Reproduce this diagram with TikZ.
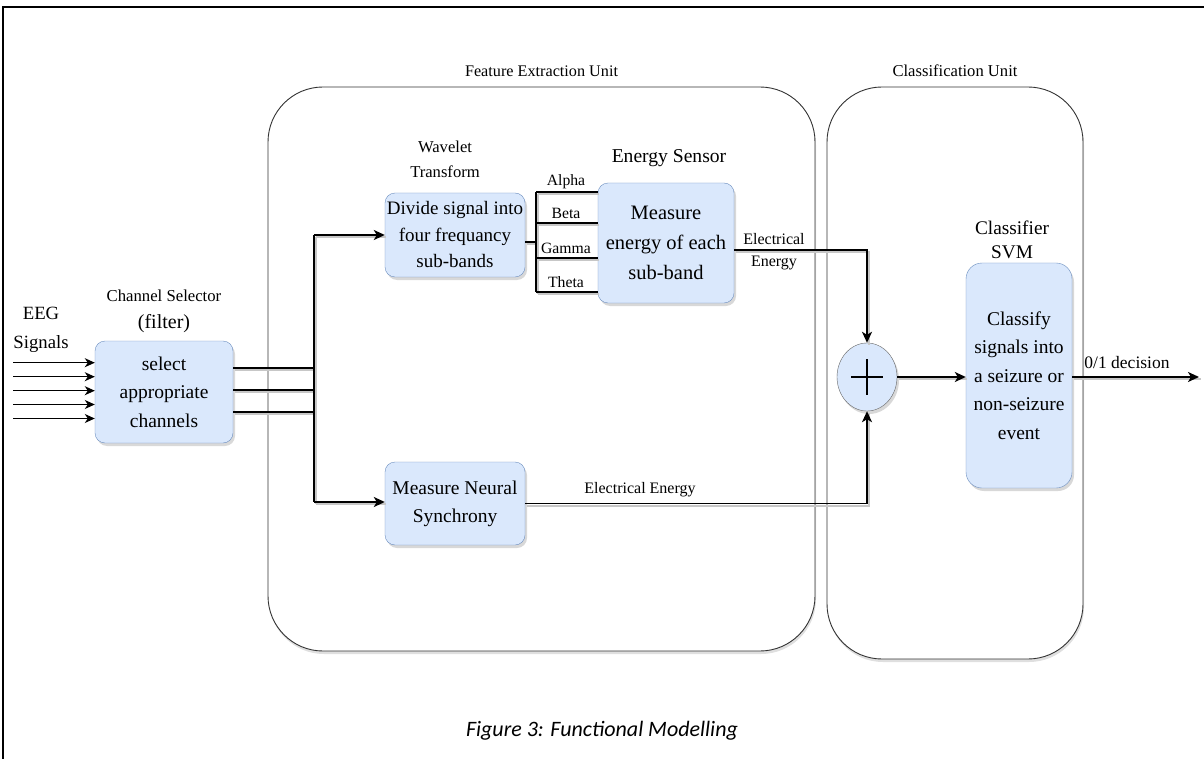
\documentclass[tikz,border=0pt]{standalone}
\usepackage{fontspec}
\setmainfont{Liberation Serif}
\newfontfamily\capfont{Carlito}
\usetikzlibrary{shapes,arrows.meta,positioning,shadows}
\definecolor{boxfill}{RGB}{218,232,252}
\definecolor{boxline}{RGB}{108,142,191}
\newcommand{\setfs}[2]{\fontsize{#1pt}{#2pt}\selectfont}

\begin{document}
\begin{tikzpicture}[x=1pt,y=-1pt,
  block/.style={draw=boxline,fill=boxfill,rounded corners=10pt,align=center,inner sep=1pt,
    drop shadow={opacity=0.3,shadow xshift=2pt,shadow yshift=-3pt}},
  unit/.style={draw=black!80,fill=white,line width=0.9pt,rounded corners=55pt,
    drop shadow={opacity=0.25,shadow xshift=1pt,shadow yshift=-3pt}},
  tag/.style={align=center,inner sep=0pt},
  wire/.style={line width=1.7pt,
    preaction={draw=black!22,line width=2pt,arrows=-,transform canvas={shift={(1.5pt,-2pt)}}}},
  flow/.style={wire,-{Stealth[length=11pt,width=10pt,inset=3pt]}},
  feed/.style={line width=1.2pt,-{Stealth[length=10pt,width=9pt,inset=3pt]}},
]
\useasboundingbox (0,0) rectangle (1204,759);
\draw[line width=1.2pt] (1204,7) -- (3,7) -- (3,759);

% units
\node[unit,minimum width=547pt,minimum height=564pt] (feunit) at (541.5,369) {};
\node[unit,minimum width=256pt,minimum height=572pt] (clunit) at (955,373) {};
\node[tag,font=\setfs{16.2}{20}] at (541.5,71) {Feature Extraction Unit};
\node[tag,font=\setfs{16.6}{20}] at (955,71) {Classification Unit};

% blocks
\node[block,minimum width=138pt,minimum height=102pt,font=\setfs{19.5}{28.5}] (chsel) at (164,392) {select\\appropriate\\channels};
\node[block,minimum width=140pt,minimum height=84pt,font=\setfs{19}{26.5}] (wave) at (455,235) {Divide signal into\\four frequancy\\sub-bands};
\node[block,minimum width=136pt,minimum height=120pt,font=\setfs{20.5}{30}] (energy) at (666,243) {Measure\\energy of each\\sub-band};
\node[block,minimum width=140pt,minimum height=83pt,font=\setfs{19.5}{28}] (neural) at (455,503.5) {Measure Neural\\Synchrony};
\node[block,ellipse,rounded corners=0pt,draw=black!60,minimum width=60pt,minimum height=68pt] (sum) at (867,377) {};
\node[block,minimum width=106pt,minimum height=225pt,rounded corners=16pt,font=\setfs{19.5}{28.5}] (classifier) at (1019,375.5) {Classify\\signals into\\a seizure or\\non-seizure\\event};
\draw[line width=1.3pt] ([xshift=-16pt]sum.center) -- ([xshift=16pt]sum.center);
\draw[line width=1.3pt] ([yshift=18pt]sum.center) -- ([yshift=-18pt]sum.center);

% labels
\node[tag,font=\setfs{18.7}{29}] (eeg) at (41,330) {EEG\\Signals};
\node[tag,font=\setfs{16.7}{27}] at (164,311) {Channel Selector\\{\setfs{20}{27}(filter)}};
\node[tag,font=\setfs{16.6}{25}] at (445,159.5) {Wavelet\\Transform};
\node[tag,font=\setfs{19.6}{24}] at (669,158) {Energy Sensor};
\node[tag,font=\setfs{19.3}{24}] at (1012,240) {Classifier\\SVM};

% inputs
\foreach \i/\yy in {1/362.7,2/376.7,3/390.7,4/404.5,5/418.5} {
  \coordinate (in\i) at (13,\yy);
  \draw[feed] (in\i) -- (in\i -| chsel.west);
}

% channel bus
\coordinate (bustop) at (314,235);
\coordinate (busbot) at (314,502);
\foreach \i/\yy in {1/368,2/390,3/412} {
  \coordinate (ch\i) at (314,\yy);
  \draw[wire] (ch\i -| chsel.east) -- (ch\i);
}
\draw[wire] (bustop) -- (busbot);
\draw[flow] (bustop) -- (bustop -| wave.west);
\draw[flow] (busbot) -- (busbot -| neural.west);

% sub-bands
\coordinate (split) at (536,242);
\draw[wire] (split -| wave.east) -- (split);
\draw[wire] (536,192) -- (536,292);
\foreach \band/\yy in {Alpha/192,Beta/223,Gamma/258,Theta/292} {
  \coordinate (b\band) at (536,\yy);
  \draw[wire] (b\band) -- (b\band -| energy.west);
  \node[tag,font=\setfs{15.7}{18}] at (566,\yy-10) {\band};
}

% to the sum and on
\draw[flow] ([yshift=-7pt]energy.east) -| (sum.north);
\node[tag,font=\setfs{16}{22}] at (774,252) {Electrical\\Energy};
\draw[flow] (neural.east) -| (sum.south);
\node[tag,font=\setfs{16}{20}] at (640,490) {Electrical Energy};
\draw[flow] (sum.east) -- (sum.east -| classifier.west);
\coordinate (out) at (1199,377);
\draw[flow] (classifier.east |- out) -- (out);
\node[tag,font=\setfs{17.5}{20}] at (1127,363) {0/1 decision};

\node[tag,font=\capfont\itshape\setfs{22}{26}] at (602,731) {Figure 3: Functional Modelling};
\end{tikzpicture}
\end{document}
